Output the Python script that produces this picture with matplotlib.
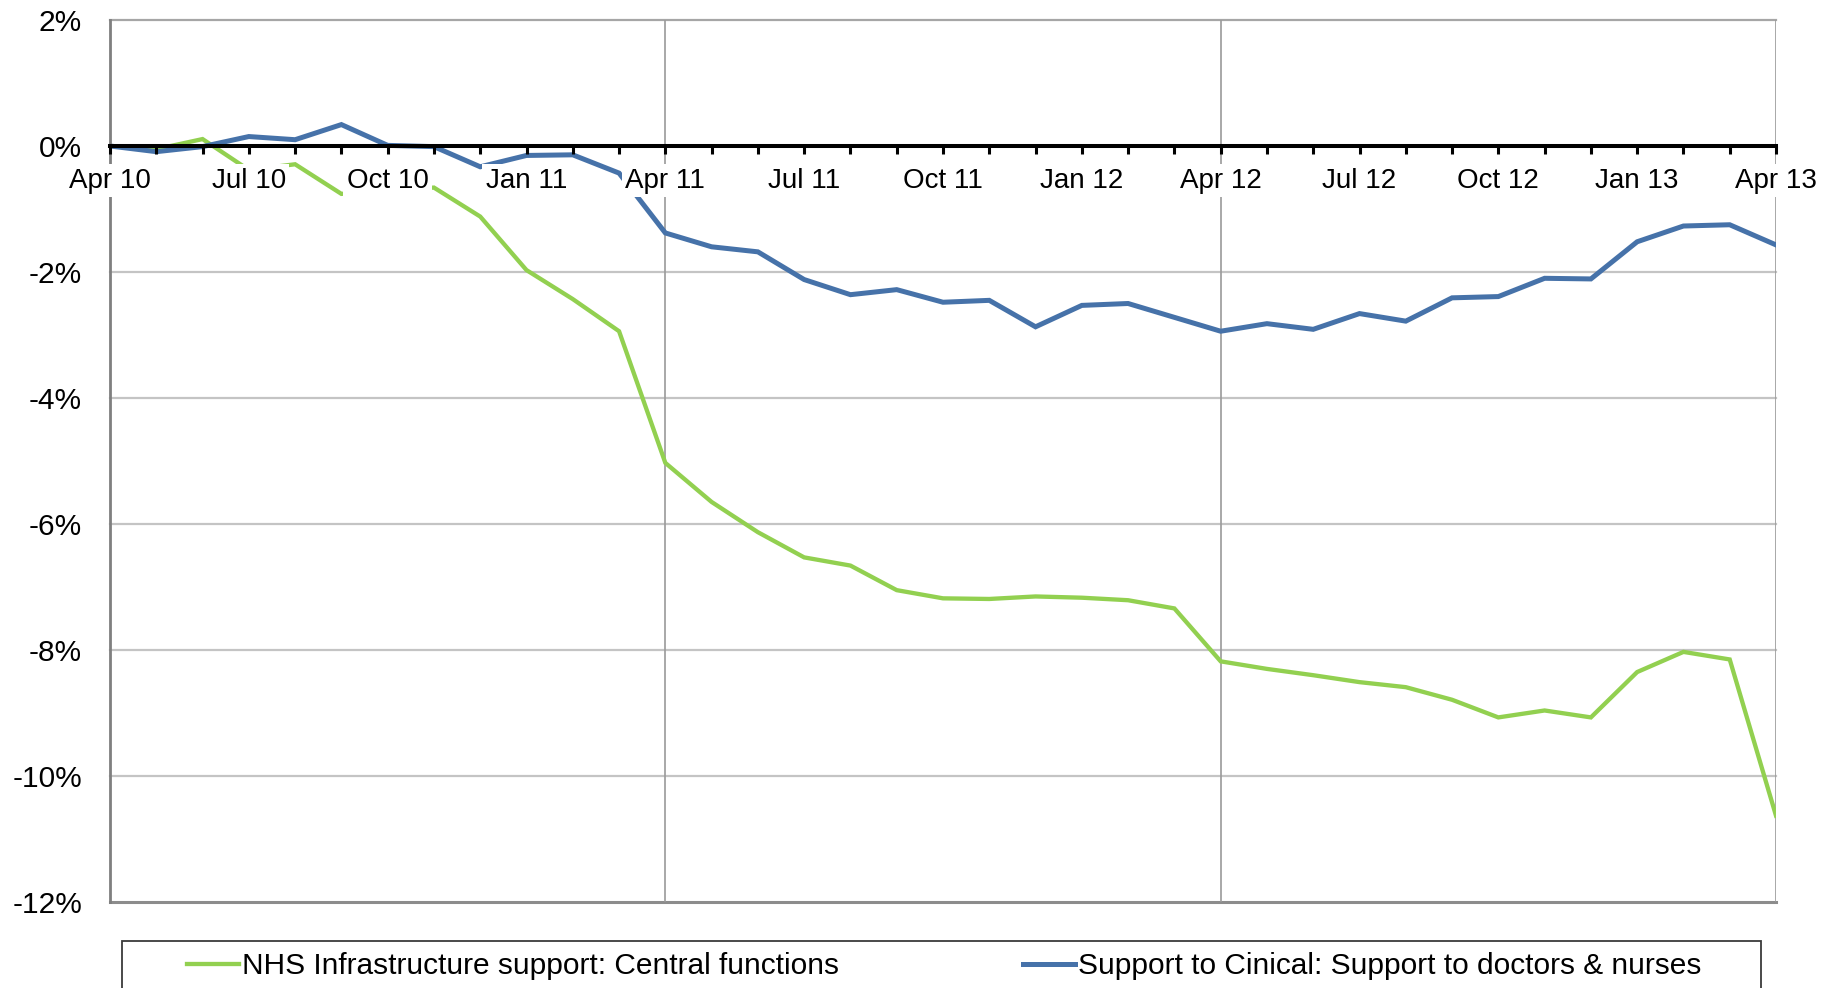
import numpy as np
import matplotlib
matplotlib.use('Agg')
import matplotlib.pyplot as plt
from matplotlib.patches import Rectangle
from matplotlib.lines import Line2D
from matplotlib.ticker import FuncFormatter

plt.rcParams['font.family'] = ['Liberation Sans', 'DejaVu Sans']

# ---------------- data ----------------
months = ['Apr 10', 'May 10', 'Jun 10', 'Jul 10', 'Aug 10', 'Sep 10', 'Oct 10', 'Nov 10', 'Dec 10',
          'Jan 11', 'Feb 11', 'Mar 11', 'Apr 11', 'May 11', 'Jun 11', 'Jul 11', 'Aug 11', 'Sep 11',
          'Oct 11', 'Nov 11', 'Dec 11', 'Jan 12', 'Feb 12', 'Mar 12', 'Apr 12', 'May 12', 'Jun 12',
          'Jul 12', 'Aug 12', 'Sep 12', 'Oct 12', 'Nov 12', 'Dec 12', 'Jan 13', 'Feb 13', 'Mar 13',
          'Apr 13']
tick_labels = ['Apr 10', 'Jul 10', 'Oct 10', 'Jan 11', 'Apr 11', 'Jul 11', 'Oct 11', 'Jan 12',
               'Apr 12', 'Jul 12', 'Oct 12', 'Jan 13', 'Apr 13']
central_functions = [0.0, -0.05, 0.11, -0.38, -0.29, -0.76, -0.70, -0.66, -1.12, -1.97, -2.43, -2.94,
                     -5.03, -5.65, -6.13, -6.53, -6.66, -7.05, -7.18, -7.19, -7.15, -7.17, -7.21, -7.34,
                     -8.18, -8.30, -8.40, -8.51, -8.59, -8.79, -9.07, -8.96, -9.07, -8.35, -8.03, -8.15,
                     -10.63]
support_doctors = [0.0, -0.09, -0.01, 0.15, 0.10, 0.34, 0.01, -0.01, -0.33, -0.15, -0.14, -0.43,
                   -1.38, -1.60, -1.68, -2.12, -2.36, -2.28, -2.48, -2.45, -2.87, -2.53, -2.50, -2.72,
                   -2.94, -2.82, -2.91, -2.66, -2.78, -2.41, -2.39, -2.10, -2.11, -1.52, -1.27, -1.25,
                   -1.57]
series_names = ['NHS Infrastructure support: Central functions',
                'Support to Cinical: Support to doctors & nurses']
y_ticks = [2, 0, -2, -4, -6, -8, -10, -12]

GREEN = '#92D050'
BLUE = '#4672A9'
FS_X = 20
FS_Y = 21.5
FS_LEG = 21.5

W, H = 1834, 988
fig = plt.figure(figsize=(W / 100, H / 100), dpi=100)
ax = fig.add_axes([110 / W, 1 - 902 / H, (1776 - 110) / W, (902 - 20) / H])

x = np.arange(len(months))
ax.set_xlim(0, len(months) - 1)
ax.set_ylim(-12, 2)

# gridlines (manual, under data)
for yv in y_ticks:
    if yv == 0:
        continue
    col = '#c4c4c4'
    lw = 1.6
    if yv == 2:
        col = '#a6a6a6'
    if yv == -12:
        col = '#8c8c8c'
        lw = 2.2
    ax.axhline(yv, color=col, lw=lw, zorder=1, clip_on=False)
for lab in ['Apr 11', 'Apr 12', 'Apr 13']:
    ax.axvline(months.index(lab), color='#9a9a9a', lw=1.2, zorder=1)

ax.plot(x, central_functions, color=GREEN, lw=3.1, zorder=2, solid_joinstyle='miter')
ax.plot(x, support_doctors, color=BLUE, lw=3.6, zorder=2.1, solid_joinstyle='miter')

# spines
for s in ['top', 'right']:
    ax.spines[s].set_visible(False)
ax.spines['left'].set_color('#7f7f7f')
ax.spines['left'].set_linewidth(2.0)
ax.spines['bottom'].set_position(('data', 0))
ax.spines['bottom'].set_color('black')
ax.spines['bottom'].set_linewidth(2.9)
ax.spines['bottom'].set_zorder(2.6)

# x ticks
ax.set_xticks(x)
ax.set_xticklabels([m if m in tick_labels else '' for m in months], fontsize=FS_X)
ax.tick_params(axis='x', direction='out', length=6, width=2.2, color='black', pad=9.5)
ax.xaxis.set_zorder(3)
for lbl in ax.get_xticklabels():
    if lbl.get_text():
        lbl.set_bbox(dict(facecolor='white', edgecolor='none', pad=2.5))

# y ticks
ax.set_yticks(y_ticks)
ax.yaxis.set_major_formatter(FuncFormatter(lambda v, p: f'{v:.0f}%'))
ax.tick_params(axis='y', direction='out', length=0, pad=20, labelsize=FS_Y)

# legend frame (extends past bottom edge)
fig.patches.append(Rectangle((122 / W, -0.05), (1761 - 122) / W, (1 - 941 / H) + 0.05,
                             transform=fig.transFigure, fill=False, edgecolor='#3a3a3a', lw=1.3))

h1 = Line2D([], [], color=GREEN, lw=3.1)
h2 = Line2D([], [], color=BLUE, lw=3.6)
for h, name, xpos in [(h1, series_names[0], 187), (h2, series_names[1], 1023)]:
    fig.legend([h], [name], loc='center left', bbox_to_anchor=(xpos / W, 1 - 966 / H),
               frameon=False, fontsize=FS_LEG, handlelength=1.75, handletextpad=0.08,
               borderpad=0, borderaxespad=0)

fig.savefig('out.png', dpi=100, facecolor='white')
